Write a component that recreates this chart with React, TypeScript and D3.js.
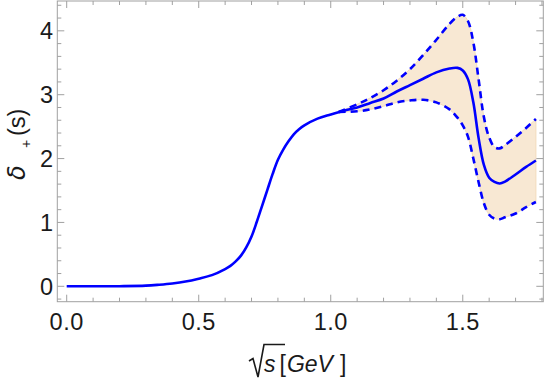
import React, { useRef, useEffect } from 'react';
import * as d3 from 'd3';

// central curve  delta_+(s) vs sqrt(s) [GeV]
const centralX = [0, 0.1, 0.2, 0.3, 0.35, 0.4, 0.45, 0.5, 0.55, 0.6, 0.62, 0.64, 0.66, 0.68, 0.7, 0.72, 0.74, 0.76, 0.78, 0.8, 0.82, 0.84, 0.86, 0.88, 0.9, 0.95, 1.0, 1.05, 1.1, 1.15, 1.2, 1.25, 1.3, 1.35, 1.4, 1.45, 1.48, 1.5, 1.52, 1.54, 1.56, 1.58, 1.6, 1.62, 1.64, 1.66, 1.7, 1.74, 1.777];
const centralY = [0, 0, 0.002, 0.01, 0.025, 0.045, 0.075, 0.12, 0.175, 0.27, 0.32, 0.39, 0.48, 0.61, 0.78, 1.01, 1.26, 1.51, 1.76, 1.98, 2.14, 2.27, 2.38, 2.46, 2.52, 2.625, 2.69, 2.75, 2.8, 2.87, 2.94, 3.05, 3.15, 3.25, 3.35, 3.41, 3.42, 3.38, 3.24, 2.88, 2.32, 1.9, 1.7, 1.635, 1.61, 1.64, 1.75, 1.87, 1.97];

// error band
const bandX = [1.03, 1.1, 1.15, 1.2, 1.25, 1.3, 1.35, 1.4, 1.45, 1.48, 1.5, 1.52, 1.54, 1.56, 1.58, 1.6, 1.62, 1.64, 1.66, 1.7, 1.74, 1.777];
const upperY = [2.73, 2.85, 2.95, 3.07, 3.22, 3.4, 3.62, 3.86, 4.11, 4.22, 4.25, 4.15, 3.82, 3.24, 2.65, 2.33, 2.18, 2.16, 2.21, 2.34, 2.48, 2.62];
const lowerY = [2.73, 2.74, 2.77, 2.82, 2.88, 2.91, 2.92, 2.88, 2.77, 2.64, 2.52, 2.34, 2.0, 1.63, 1.3, 1.12, 1.06, 1.05, 1.08, 1.14, 1.24, 1.32];

const xTicks = [0, 0.5, 1.0, 1.5];
const yTicks = [0, 1, 2, 3, 4];

const W = 545;
const H = 383;

const App = () => {
  const svgRef = useRef<SVGSVGElement>(null);

  useEffect(() => {
    const svg = d3.select(svgRef.current);
    svg.selectAll('*').remove();

    const left = 57.3, right = 543.3, top = 1, bottom = 301.7;
    const x = d3.scaleLinear().domain([-0.0356, 1.805]).range([left, right]);
    const y = d3.scaleLinear().domain([-0.241, 4.467]).range([bottom, top]);

    const blue = '#0000ff';
    const curve = d3.curveCatmullRom.alpha(0.5);
    const g = svg.append('g');

    // band
    const area = d3.area<number>()
      .x((d, i) => x(bandX[i]))
      .y0((d, i) => y(lowerY[i]))
      .y1((d) => y(d))
      .curve(curve);
    g.append('path')
      .attr('d', area(upperY))
      .attr('fill', '#f8e8d3')
      .attr('stroke', '#f3dcbc')
      .attr('stroke-width', 1);

    const line = d3.line<[number, number]>()
      .x((d) => x(d[0]))
      .y((d) => y(d[1]))
      .curve(curve);

    const dashed = (ys: number[]) =>
      g.append('path')
        .attr('d', line(bandX.map((v, i) => [v, ys[i]] as [number, number])))
        .attr('fill', 'none')
        .attr('stroke', blue)
        .attr('stroke-width', 2.6)
        .attr('stroke-dasharray', '7,5');
    dashed(upperY);
    dashed(lowerY);

    g.append('path')
      .attr('d', line(centralX.map((v, i) => [v, centralY[i]] as [number, number])))
      .attr('fill', 'none')
      .attr('stroke', blue)
      .attr('stroke-width', 2.6);

    // frame
    const frame = '#a0a0a0';
    svg.append('rect')
      .attr('x', left).attr('y', top)
      .attr('width', right - left).attr('height', bottom - top)
      .attr('fill', 'none').attr('stroke', frame).attr('stroke-width', 1);

    const ticks = svg.append('g').attr('stroke', frame).attr('stroke-width', 1);
    d3.range(0, 1.81, 0.1).forEach((v) => {
      const major = Math.abs(v * 2 - Math.round(v * 2)) < 1e-6;
      const len = major ? 7 : 4;
      const px = x(v);
      ticks.append('line').attr('x1', px).attr('x2', px).attr('y1', bottom).attr('y2', bottom - len);
      ticks.append('line').attr('x1', px).attr('x2', px).attr('y1', top).attr('y2', top + len);
    });
    d3.range(-0.2, 4.41, 0.2).forEach((v) => {
      const major = Math.abs(v - Math.round(v)) < 1e-6;
      const len = major ? 7 : 4;
      const py = y(v);
      ticks.append('line').attr('x1', left).attr('x2', left + len).attr('y1', py).attr('y2', py);
      ticks.append('line').attr('x1', right).attr('x2', right - len).attr('y1', py).attr('y2', py);
    });

    const font = 'Liberation Sans, Arial, sans-serif';
    const ink = '#1a1a1a';
    svg.append('g').selectAll('text').data(xTicks).join('text')
      .attr('x', (d) => x(d))
      .attr('y', 329.5)
      .attr('text-anchor', 'middle')
      .style('font-family', font)
      .style('font-size', '23.5px')
      .style('letter-spacing', '0.5px')
      .attr('fill', ink)
      .text((d) => d.toFixed(1));

    svg.append('g').selectAll('text').data(yTicks).join('text')
      .attr('x', 53)
      .attr('y', (d) => y(d) + 8.3)
      .attr('text-anchor', 'end')
      .style('font-family', font)
      .style('font-size', '23.5px')
      .attr('fill', ink)
      .text((d) => String(d));

    // x label: radical drawn as a path, then s [GeV ]
    svg.append('path')
      .attr('d', 'M249,361 L253,358.5 L258,377 L264,344.5 L285,344.5')
      .attr('fill', 'none')
      .attr('stroke', ink)
      .attr('stroke-width', 1.6)
      .attr('stroke-linejoin', 'miter');
    const xl = svg.append('text')
      .attr('x', 264)
      .attr('y', 371.5)
      .style('font-family', font)
      .style('font-size', '23px')
      .attr('fill', ink);
    xl.append('tspan').style('font-style', 'italic').text('s');
    xl.append('tspan').attr('dx', 4).text('[');
    xl.append('tspan').attr('dx', 1).style('font-style', 'italic').text('GeV');
    xl.append('tspan').attr('dx', 7).text(']');

    // y label
    const yl = svg.append('g').attr('transform', 'translate(25,180) rotate(-90)');
    yl.append('text')
      .attr('x', 0).attr('y', 0)
      .style('font-family', 'DejaVu Sans, sans-serif')
      .style('font-size', '24px')
      .style('font-style', 'italic')
      .attr('fill', ink)
      .text('δ');
    yl.append('text')
      .attr('x', 32).attr('y', 6)
      .style('font-family', font)
      .style('font-size', '14px')
      .attr('fill', ink)
      .text('+');
    yl.append('text')
      .attr('x', 44).attr('y', 0)
      .style('font-family', font)
      .style('font-size', '23.5px')
      .attr('fill', ink)
      .text('(s)');
  }, []);

  return (
    <div style={{ position: 'fixed', left: 0, top: 0 }}>
      <svg ref={svgRef} width={W} height={H} style={{ display: 'block', background: '#fff' }} />
    </div>
  );
};

export default App;
